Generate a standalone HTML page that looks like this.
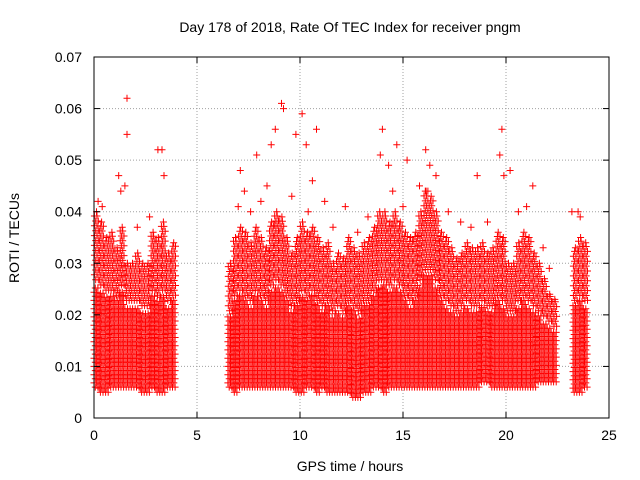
<!DOCTYPE html>
<html><head><meta charset="utf-8"><style>
body{margin:0;background:#fff}
svg{display:block;font-family:"Liberation Sans",sans-serif}
</style></head><body>
<svg id="chart" width="640" height="480">
<rect width="640" height="480" fill="#fff"/>
<text x="350" y="32" font-size="14" text-anchor="middle">Day 178 of 2018, Rate Of TEC Index for receiver pngm</text>
<text x="350" y="471" font-size="14" text-anchor="middle">GPS time / hours</text>
<text x="19" y="238" font-size="14" text-anchor="middle" transform="rotate(-90 19 238)">ROTI / TECUs</text>
<g id="grid"></g><g id="marks"></g><g id="axes"></g>
</svg>
<script>
const xTicks=[0,5,10,15,20,25];
const yTicks=[0,0.01,0.02,0.03,0.04,0.05,0.06,0.07];
const yTickLabels=["0","0.01","0.02","0.03","0.04","0.05","0.06","0.07"];
const binStarts=[0,0.25,0.5,0.75,1,1.25,1.5,1.75,2,2.25,2.5,2.75,3,3.25,3.5,3.75,
6.5,6.75,7,7.25,7.5,7.75,8,8.25,8.5,8.75,9,9.25,9.5,9.75,10,10.25,10.5,10.75,11,11.25,11.5,11.75,12,12.25,12.5,12.75,13,13.25,13.5,13.75,14,14.25,14.5,14.75,15,15.25,15.5,15.75,16,16.25,16.5,16.75,17,17.25,17.5,17.75,18,18.25,18.5,18.75,19,19.25,19.5,19.75,20,20.25,20.5,20.75,21,21.25,21.5,21.75,22,22.25,
23.25,23.5,23.75];
const binHighs=[0.04,0.038,0.035,0.036,0.033,0.037,0.03,0.03,0.032,0.03,0.03,0.036,0.035,0.038,0.032,0.034,
0.03,0.035,0.037,0.036,0.034,0.037,0.035,0.033,0.038,0.04,0.039,0.035,0.032,0.035,0.038,0.036,0.037,0.035,0.033,0.034,0.03,0.032,0.031,0.035,0.033,0.032,0.034,0.035,0.037,0.04,0.04,0.038,0.04,0.038,0.036,0.035,0.036,0.04,0.044,0.043,0.04,0.036,0.035,0.033,0.031,0.032,0.034,0.033,0.033,0.034,0.032,0.033,0.036,0.035,0.03,0.03,0.034,0.036,0.035,0.032,0.03,0.027,0.024,0.023,
0.033,0.035,0.034];
const binLows=[0.006,0.005,0.005,0.006,0.006,0.006,0.006,0.006,0.006,0.005,0.005,0.006,0.005,0.005,0.006,0.006,
0.006,0.005,0.006,0.006,0.006,0.006,0.006,0.006,0.006,0.006,0.006,0.006,0.006,0.005,0.005,0.006,0.006,0.005,0.006,0.005,0.005,0.005,0.005,0.005,0.004,0.004,0.005,0.005,0.006,0.006,0.005,0.006,0.006,0.006,0.006,0.006,0.006,0.006,0.006,0.006,0.006,0.006,0.006,0.006,0.006,0.006,0.006,0.006,0.006,0.007,0.007,0.006,0.006,0.006,0.006,0.006,0.006,0.006,0.006,0.006,0.007,0.007,0.007,0.007,
0.005,0.005,0.006];
const binDense=[0.026,0.025,0.024,0.024,0.023,0.025,0.022,0.022,0.022,0.021,0.021,0.024,0.023,0.024,0.022,0.023,
0.02,0.023,0.024,0.023,0.022,0.024,0.023,0.022,0.025,0.026,0.025,0.023,0.021,0.022,0.024,0.023,0.024,0.022,0.021,0.022,0.02,0.021,0.02,0.022,0.021,0.02,0.022,0.022,0.024,0.026,0.026,0.025,0.026,0.025,0.023,0.022,0.023,0.026,0.028,0.028,0.026,0.023,0.022,0.021,0.02,0.021,0.022,0.021,0.021,0.022,0.021,0.021,0.023,0.022,0.02,0.02,0.022,0.023,0.022,0.021,0.02,0.019,0.018,0.017,
0.022,0.023,0.022];
const outlierTimes=[1.6,1.6,3.1,3.3,3.4,1.2,1.3,8.8,9.1,9.2,9.8,10.1,10.3,10.8,7.1,7.3,7.9,8.6,8.4,14,14.3,14.7,15.2,16.1,16.3,19.8,19.7,20.2,21.3,18.6,23.2,23.5,13.9,12.2,11.2,10.6,19.9,1.5,0.2,
0.4,2.1,2.7,7.0,7.6,8.1,9.6,10.4,11.6,12.8,13.3,14.5,15.0,15.8,16.6,17.2,17.8,18.3,19.1,20.6,21.0,21.8,22.1,23.6];
const outlierValues=[0.062,0.055,0.052,0.052,0.047,0.047,0.044,0.056,0.061,0.06,0.055,0.059,0.053,0.056,0.048,0.044,0.051,0.053,0.045,0.056,0.049,0.053,0.05,0.052,0.049,0.056,0.051,0.048,0.045,0.047,0.04,0.04,0.051,0.041,0.042,0.046,0.047,0.045,0.042,
0.041,0.037,0.039,0.041,0.04,0.042,0.043,0.04,0.037,0.036,0.039,0.044,0.041,0.045,0.047,0.04,0.038,0.037,0.038,0.04,0.041,0.033,0.029,0.039];
const X0=94,X1=609,Y0=418,Y1=57;
const xs=v=>X0+(v-0)/(25-0)*(X1-X0);
const ys=v=>Y0-(v-0)/(0.07-0)*(Y0-Y1);
const NS="http://www.w3.org/2000/svg";
function mk(tag,attrs,parent){const e=document.createElementNS(NS,tag);for(const k in attrs)e.setAttribute(k,attrs[k]);parent.appendChild(e);return e;}
const grid=document.getElementById('grid'),marks=document.getElementById('marks'),axes=document.getElementById('axes');
xTicks.forEach((t,i)=>{const x=xs(t);
 if(i>0&&i<xTicks.length-1){const g=mk('line',{x1:x,x2:x,y1:Y1,y2:Y0,stroke:'#a0a0a0','stroke-dasharray':'1,2'},grid);
 
 }
 mk('line',{x1:x,x2:x,y1:Y0,y2:Y0-6,stroke:'#000'},axes);mk('line',{x1:x,x2:x,y1:Y1,y2:Y1+6,stroke:'#000'},axes);
 const l=mk('text',{x:x,y:Y0+22,'font-size':14,'text-anchor':'middle'},axes);l.textContent=t;
 
 });
yTicks.forEach((t,i)=>{const y=ys(t);
 if(i>0&&i<yTicks.length-1){const g=mk('line',{x1:X0,x2:X1,y1:y,y2:y,stroke:'#a0a0a0','stroke-dasharray':'1,2'},grid);
 
 }
 mk('line',{x1:X0,x2:X0+6,y1:y,y2:y,stroke:'#000'},axes);mk('line',{x1:X1,x2:X1-6,y1:y,y2:y,stroke:'#000'},axes);
 const l=mk('text',{x:X0-12,y:y+5,'font-size':14,'text-anchor':'end'},axes);l.textContent=yTickLabels[i];
 
 });
const fr=mk('rect',{x:X0,y:Y1,width:X1-X0,height:Y0-Y1,fill:'none',stroke:'#000'},axes);


function plus(x,y){return `M${(x-3.5).toFixed(1)} ${y.toFixed(1)}h7M${x.toFixed(1)} ${(y-3.5).toFixed(1)}v7`;}
binStarts.forEach((t0,i)=>{let d='';const lo=binLows[i],hi=binHighs[i],mid=binDense[i];let c=0;
 for(let t=t0;t<t0+0.25-1e-6;t+=0.0625){c++;const off=(c%2)*0.0008;
  for(let v=lo+off;v<=mid;v+=0.0016){d+=plus(xs(t),ys(v));}
  for(let v=mid+0.0008+off*1.2;v<=hi;v+=0.0019){d+=plus(xs(t+0.02),ys(v));}}
 d+=plus(xs(t0+0.12),ys(hi));
 const p=mk('path',{d:d,stroke:'#ff0000','stroke-width':1,fill:'none'},marks);
 
 });
outlierTimes.forEach((t,i)=>{const p=mk('path',{d:plus(xs(t),ys(outlierValues[i])),stroke:'#ff0000','stroke-width':1,fill:'none'},marks);
 
 });
</script>
</body></html>
